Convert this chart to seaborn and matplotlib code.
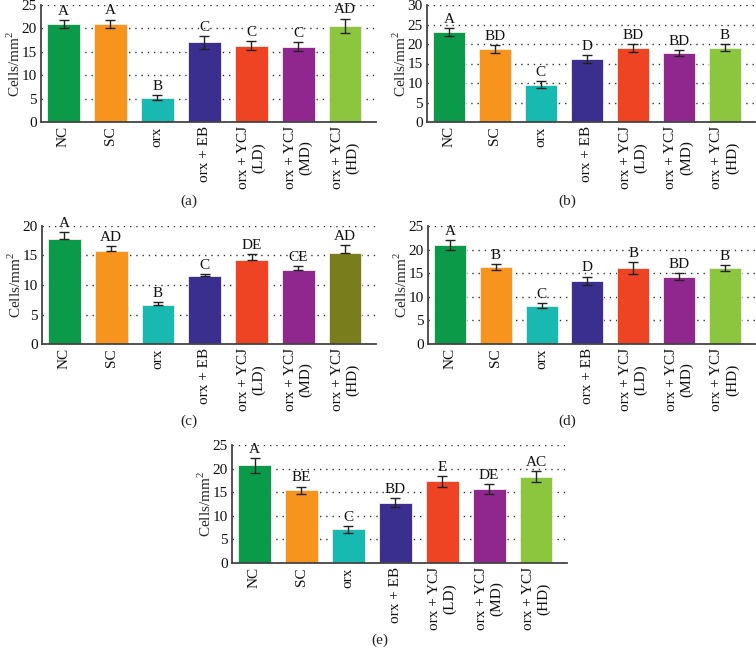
import matplotlib
matplotlib.use("Agg")
import matplotlib.pyplot as plt
import seaborn as sns
import pandas as pd
import numpy as np

sns.set_theme(style="white")
plt.rcParams['font.family'] = ['Liberation Serif', 'DejaVu Serif']
plt.rcParams['mathtext.fontset'] = 'custom'
plt.rcParams['mathtext.rm'] = 'Liberation Serif'

categories = ["NC", "SC", "orx", "orx + EB", "orx + YCJ\n(LD)", "orx + YCJ\n(MD)", "orx + YCJ\n(HD)"]

colors_main = ["#0b9a4a", "#f7941d", "#17b9b0", "#3a2f8e", "#ef4424", "#8f278f", "#8cc63f"]
colors_c = ["#0b9a4a", "#f7941d", "#17b9b0", "#3a2f8e", "#ef4424", "#8f278f", "#7a7d1c"]

a_vals = [20.9, 21.0, 5.2, 17.0, 16.3, 16.1, 20.6]
a_err = [0.8, 0.9, 0.5, 1.4, 1.0, 0.9, 1.5]
a_letters = ["A", "A", "B", "C", "C", "C", "AD"]

b_vals = [23.1, 18.8, 9.5, 16.1, 19.0, 17.6, 19.1]
b_err = [1.0, 1.0, 0.9, 1.0, 1.0, 0.8, 0.8]
b_letters = ["A", "BD", "C", "D", "BD", "BD", "B"]

c_vals = [17.8, 15.8, 6.6, 11.6, 14.3, 12.6, 15.5]
c_err = [1.1, 0.8, 0.5, 0.2, 1.0, 0.6, 1.2]
c_letters = ["A", "AD", "B", "C", "DE", "CE", "AD"]

d_vals = [21.0, 16.3, 8.1, 13.4, 16.1, 14.3, 16.1]
d_err = [1.0, 0.6, 0.5, 0.9, 1.2, 0.7, 0.6]
d_letters = ["A", "B", "C", "D", "B", "BD", "B"]

e_vals = [20.7, 15.4, 7.1, 12.8, 17.3, 15.7, 18.3]
e_err = [1.6, 0.8, 0.7, 0.9, 1.2, 1.1, 1.2]
e_letters = ["A", "BE", "C", "BD", "E", "DE", "AC"]

panel_labels = ["(a)", "(b)", "(c)", "(d)", "(e)"]

fig = plt.figure(figsize=(7.56, 6.58), dpi=100)

W = fig.get_figwidth() * fig.dpi
H = fig.get_figheight() * fig.dpi

def rect(left, right, top, bottom):
    return [left / W, 1 - bottom / H, (right - left) / W, (bottom - top) / H]

panels = [
    (rect(41, 376, 5, 122), a_vals, a_err, a_letters, 25, colors_main, False, (189, 201)),
    (rect(427, 755, 5, 122), b_vals, b_err, b_letters, 30, colors_main, False, (567, 201)),
    (rect(42, 376, 226, 344), c_vals, c_err, c_letters, 20, colors_c, True, (189, 421)),
    (rect(428, 755, 226, 344), d_vals, d_err, d_letters, 25, colors_main, False, (567, 421)),
    (rect(232, 567, 445, 563), e_vals, e_err, e_letters, 25, colors_main, False, (380, 640)),
]

FS = 11

for i, (r, vals, errs, letters, ymax, cols, upper_only, labpos) in enumerate(panels):
    ax = fig.add_axes(r)
    df = pd.DataFrame({"cat": categories, "val": vals})
    sns.barplot(data=df, x="cat", y="val", hue="cat", palette=cols, legend=False,
                ax=ax, width=0.7, saturation=1, edgecolor="#f4eee8", linewidth=0.6, zorder=2)
    xs = np.arange(len(categories))
    if upper_only:
        ax.errorbar(xs, vals, yerr=[np.zeros(len(errs)), errs], fmt="none",
                    ecolor="#222222", elinewidth=1.0, capsize=3.5, capthick=1.0, zorder=3)
    else:
        ax.errorbar(xs, vals, yerr=errs, fmt="none", ecolor="#222222",
                    elinewidth=1.0, capsize=3.5, capthick=1.0, zorder=3)
    for x, v, e, t in zip(xs, vals, errs, letters):
        ax.annotate(t, (x, v + e), xytext=(0, 1.5), textcoords="offset points",
                    ha="center", va="bottom", fontsize=FS, color="#111111", zorder=4)
    ax.set_ylim(0, ymax)
    ax.set_xlim(-0.48, 6.66)
    ax.set_yticks(np.arange(0, ymax + 1, 5))
    for yv in np.arange(5, ymax + 1, 5):
        ax.axhline(yv, color="#333333", linestyle=(0, (1, 3.5)), linewidth=1.0, zorder=0)
    ax.set_xlabel("")
    ax.set_ylabel("Cells/mm$^2$", fontsize=FS, labelpad=-1)
    ax.set_xticks(xs)
    ax.set_xticklabels(categories, rotation=90, fontsize=FS, ha="center", va="top",
                       multialignment="center")
    ax.tick_params(axis="both", length=0, labelsize=FS, pad=3, colors="#111111")
    for s in ["top", "right"]:
        ax.spines[s].set_visible(False)
    for s in ["left", "bottom"]:
        ax.spines[s].set_color("#444444")
        ax.spines[s].set_linewidth(1.3)
    fig.text(labpos[0] / W, 1 - labpos[1] / H, panel_labels[i], ha="center", va="center",
             fontsize=FS, color="#222222")

fig.savefig("out.png", dpi=100)
